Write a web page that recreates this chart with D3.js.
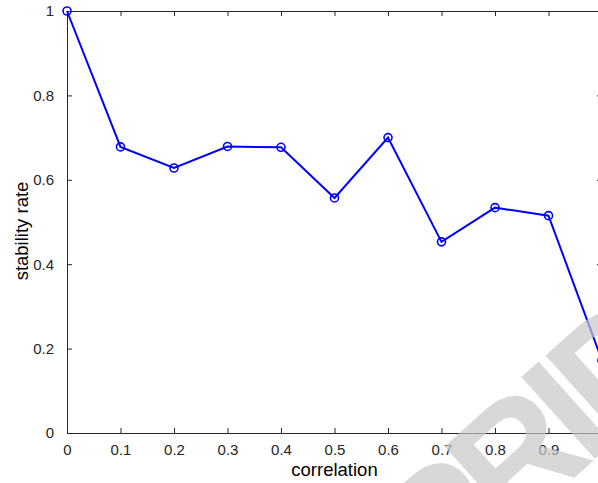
<!doctype html>
<html lang="en">
<head>
    <meta charset="utf-8">
    <title>Stability rate vs correlation</title>
    <script src="https://d3js.org/d3.v7.min.js"></script>
    <style>
        body { margin: 0; background: #fff; }
        svg text { font-family: "Liberation Sans", Arial, sans-serif; }
        .tick line, .domain { stroke: #262626; }
    </style>
</head>
<body>
    <div id="chart"></div>
    <script>
        // Data
        var correlation   = [0, 0.1, 0.2, 0.3, 0.4, 0.5, 0.6, 0.7, 0.8, 0.9, 1.0];
        var stabilityRate = [1.0, 0.678, 0.628, 0.679, 0.677, 0.557, 0.700, 0.453, 0.534, 0.515, 0.172];
        var xTicks = [0, 0.1, 0.2, 0.3, 0.4, 0.5, 0.6, 0.7, 0.8, 0.9, 1];
        var yTicks = [0, 0.2, 0.4, 0.6, 0.8, 1];

        // Figure size
        var width  = 598;
        var height = 483;
        var plotLeft = 67, plotRight = 602, plotTop = 11, plotBottom = 433;

        var svg = d3.select("#chart")
            .append("svg")
            .attr("width", width)
            .attr("height", height);

        var x = d3.scaleLinear().domain([0, 1]).range([plotLeft, plotRight]);
        var y = d3.scaleLinear().domain([0, 1]).range([plotBottom, plotTop]);

        var fmt = function(d) { return d3.format("~g")(d); };

        // Tick label styling (MATLAB-like dark grey)
        function styleTicks(g) {
            g.attr("font-size", null).attr("font-family", null);
            g.selectAll(".tick text")
                .style("font-size", "15px")
                .attr("fill", "#262626");
        }

        // Bottom and left axes with labels
        svg.append("g")
            .attr("transform", "translate(0," + plotBottom + ")")
            .call(d3.axisBottom(x).tickValues(xTicks).tickFormat(fmt).tickSizeInner(-5).tickSizeOuter(0).tickPadding(9))
            .call(styleTicks)
            .call(function(g) { g.selectAll("text").attr("dy", "0.85em"); });

        svg.append("g")
            .attr("transform", "translate(" + plotLeft + ",0)")
            .call(d3.axisLeft(y).tickValues(yTicks).tickFormat(fmt).tickSizeInner(-5).tickSizeOuter(0).tickPadding(13))
            .call(styleTicks);

        // Top and right axes, ticks only
        svg.append("g")
            .attr("transform", "translate(0," + plotTop + ")")
            .call(d3.axisTop(x).tickValues(xTicks).tickFormat("").tickSizeInner(-5).tickSizeOuter(0));

        svg.append("g")
            .attr("transform", "translate(" + plotRight + ",0)")
            .call(d3.axisRight(y).tickValues(yTicks).tickFormat("").tickSizeInner(-5).tickSizeOuter(0));

        svg.selectAll(".domain").attr("stroke-width", 1);

        // Axis titles
        svg.append("text")
            .attr("x", (plotLeft + plotRight) / 2)
            .attr("y", 476)
            .attr("text-anchor", "middle")
            .style("font-size", "18.5px")
            .attr("fill", "#000")
            .text("correlation");

        svg.append("text")
            .attr("transform", "translate(28," + 231 + ") rotate(-90)")
            .attr("text-anchor", "middle")
            .style("font-size", "18.5px")
            .attr("fill", "#000")
            .text("stability rate");

        // Line and markers
        var pts = correlation.map(function(c, i) { return [c, stabilityRate[i]]; });

        var line = d3.line()
            .x(function(d) { return x(d[0]); })
            .y(function(d) { return y(d[1]); });

        svg.append("path")
            .datum(pts)
            .attr("d", line)
            .attr("fill", "none")
            .attr("stroke", "#0000ff")
            .attr("stroke-width", 2);

        svg.selectAll("circle.pt")
            .data(pts)
            .enter()
            .append("circle")
            .attr("class", "pt")
            .attr("cx", function(d) { return x(d[0]); })
            .attr("cy", function(d) { return y(d[1]); })
            .attr("r", 4)
            .attr("fill", "none")
            .attr("stroke", "#0000ff")
            .attr("stroke-width", 1.6);

        // Watermark
        svg.append("text")
            .attr("transform", "translate(562,414) rotate(-42)")
            .attr("text-anchor", "middle")
            .attr("dominant-baseline", "central")
            .style("font-size", "160px")
            .style("font-weight", "bold")
            .style("letter-spacing", "-12px")
            .attr("fill", "#c8c8c8")
            .attr("fill-opacity", 0.7)
            .text("PRIDE");
    </script>
</body>
</html>
